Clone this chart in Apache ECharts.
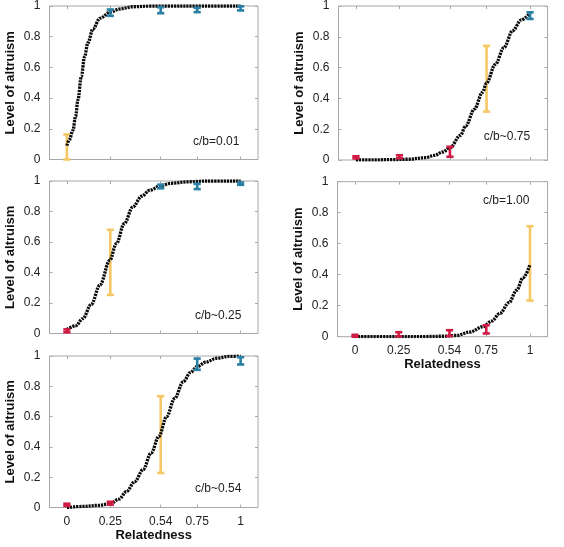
<!DOCTYPE html>
<html>
<head>
<meta charset="utf-8">
<script src="https://cdn.jsdelivr.net/npm/echarts@6/dist/echarts.min.js"></script>
<style>
html,body{margin:0;padding:0;background:#fff;}
#chart{width:564px;height:547px;}
</style>
</head>
<body>
<div id="chart"></div>
<script>
// ---- shared axis data ----
const xTicks = [0, 0.25, 0.54, 0.75, 1];
const xAxisTitle = 'Relatedness';
const yAxisTitle = 'Level of altruism';
const pointX = [0, 0.25, 0.54, 0.75, 1];

// ---- panel 1: c/b=0.01 ----
const p1Label = 'c/b=0.01';
const p1Low = [0.0, 0.936, 0.953, 0.960, 0.971];
const p1High = [0.163, 0.977, 0.992, 0.988, 0.998];
const p1Regime = ['M', 'C', 'C', 'C', 'C'];
const p1CurveX = [0, 0.015, 0.035, 0.05, 0.064, 0.083, 0.102, 0.121, 0.15, 0.19, 0.25, 0.3, 0.38, 0.48, 0.6, 0.75, 1];
const p1CurveY = [0.09, 0.13, 0.19, 0.28, 0.39, 0.54, 0.67, 0.76, 0.85, 0.92, 0.96, 0.98, 0.995, 1.0, 1.0, 1.0, 1.0];

// ---- panel 2: c/b~0.75 ----
const p2Label = 'c/b~0.75';
const p2Low = [0.010, 0.012, 0.021, 0.314, 0.916];
const p2High = [0.024, 0.031, 0.086, 0.741, 0.959];
const p2Regime = ['D', 'D', 'D', 'M', 'C'];
const p2CurveX = [0, 0.1, 0.2, 0.3, 0.4, 0.45, 0.5, 0.54, 0.6, 0.63, 0.68, 0.727, 0.75, 0.8, 0.85, 0.9, 0.95, 1];
const p2CurveY = [0.0, 0.001, 0.002, 0.005, 0.015, 0.03, 0.052, 0.08, 0.16, 0.22, 0.33, 0.44, 0.5, 0.62, 0.73, 0.84, 0.91, 0.955];

// ---- panel 3: c/b~0.25 ----
const p3Label = 'c/b~0.25';
const p3Low = [0.008, 0.253, 0.952, 0.947, 0.975];
const p3High = [0.027, 0.680, 0.976, 0.981, 0.990];
const p3Regime = ['D', 'M', 'C', 'C', 'C'];
const p3CurveX = [0, 0.05, 0.092, 0.14, 0.19, 0.247, 0.285, 0.33, 0.38, 0.43, 0.478, 0.54, 0.6, 0.7, 0.8, 1];
const p3CurveY = [0.026, 0.05, 0.098, 0.19, 0.317, 0.48, 0.59, 0.72, 0.83, 0.9, 0.94, 0.97, 0.985, 0.995, 1.0, 1.0];

// ---- panel 4: c/b=1.00 ----
const p4Label = 'c/b=1.00';
const p4Low = [0.0, 0.002, 0.004, 0.021, 0.233];
const p4High = [0.012, 0.029, 0.042, 0.074, 0.713];
const p4Regime = ['D', 'D', 'D', 'D', 'M'];
const p4CurveX = [0, 0.2, 0.4, 0.5, 0.58, 0.656, 0.732, 0.78, 0.828, 0.88, 0.924, 0.96, 1];
const p4CurveY = [0.0, 0.0, 0.001, 0.003, 0.008, 0.03, 0.065, 0.1, 0.15, 0.22, 0.3, 0.38, 0.465];

// ---- panel 5: c/b~0.54 ----
const p5Label = 'c/b~0.54';
const p5Low = [0.010, 0.019, 0.228, 0.909, 0.944];
const p5High = [0.025, 0.038, 0.735, 0.983, 0.992];
const p5Regime = ['D', 'D', 'M', 'C', 'C'];
const p5CurveX = [0, 0.092, 0.18, 0.247, 0.3, 0.343, 0.39, 0.439, 0.485, 0.53, 0.574, 0.62, 0.67, 0.71, 0.75, 0.8, 0.863, 0.93, 1];
const p5CurveY = [0.0, 0.007, 0.014, 0.024, 0.055, 0.105, 0.17, 0.25, 0.36, 0.47, 0.6, 0.72, 0.83, 0.89, 0.93, 0.96, 0.985, 0.997, 1.0];

// ---- styling / layout ----
const regimeColor = { D: '#cf1a43', M: '#f6c865', C: '#2a7fa5' };
const FONT = '"Liberation Sans", Arial, Helvetica, sans-serif';
const frameColor = '#a8a8a8';

const panels = [
  { label: p1Label, low: p1Low, high: p1High, regime: p1Regime, cx: p1CurveX, cy: p1CurveY,
    grid: { left: 49.5, top: 6, width: 208.5, height: 153.5 }, showX: false, note: [193, 141.7] },
  { label: p2Label, low: p2Low, high: p2High, regime: p2Regime, cx: p2CurveX, cy: p2CurveY,
    grid: { left: 338.5, top: 6, width: 209, height: 154 }, showX: false, note: [483.7, 136.7] },
  { label: p3Label, low: p3Low, high: p3High, regime: p3Regime, cx: p3CurveX, cy: p3CurveY,
    grid: { left: 49.5, top: 181, width: 208.5, height: 152.5 }, showX: false, note: [195, 315.7] },
  { label: p4Label, low: p4Low, high: p4High, regime: p4Regime, cx: p4CurveX, cy: p4CurveY,
    grid: { left: 337.5, top: 181.7, width: 210, height: 155 }, showX: true, note: [483, 200.7] },
  { label: p5Label, low: p5Low, high: p5High, regime: p5Regime, cx: p5CurveX, cy: p5CurveY,
    grid: { left: 49.5, top: 356, width: 208.5, height: 151.5 }, showX: true, note: [195, 488.3] }
];

const grids = [], xAxes = [], yAxes = [], series = [], graphics = [];

function errorBarRender(params, api) {
  const x = api.value(0), lo = api.value(1), hi = api.value(2);
  const color = api.visual('color');
  const pLo = api.coord([x, lo]);
  const pHi = api.coord([x, hi]);
  const hw = 3.6;
  const st = { stroke: color, lineWidth: 2.6 };
  return {
    type: 'group',
    children: [
      { type: 'line', shape: { x1: pLo[0], y1: pLo[1], x2: pHi[0], y2: pHi[1] }, style: st },
      { type: 'line', shape: { x1: pLo[0] - hw, y1: pLo[1], x2: pLo[0] + hw, y2: pLo[1] }, style: st },
      { type: 'line', shape: { x1: pHi[0] - hw, y1: pHi[1], x2: pHi[0] + hw, y2: pHi[1] }, style: st }
    ]
  };
}

panels.forEach((p, i) => {
  grids.push(Object.assign({ show: true, borderColor: frameColor, borderWidth: 1, backgroundColor: '#fff' }, p.grid));
  const xi = xAxes.length;
  const tickCommon = { show: true, inside: true, length: 3, customValues: xTicks, lineStyle: { color: frameColor, width: 1 } };
  const noLine = { show: false, onZero: false };
  xAxes.push({
    type: 'value', gridIndex: i, min: -0.1, max: 1.1, position: 'bottom',
    axisLine: noLine, splitLine: { show: false },
    axisTick: tickCommon,
    axisLabel: { show: p.showX, customValues: xTicks, margin: 8, color: '#222', fontFamily: FONT, fontSize: 12,
      formatter: v => String(v) },
    name: p.showX ? xAxisTitle : '', nameLocation: 'middle', nameGap: 21,
    nameTextStyle: { fontFamily: FONT, fontSize: 13, fontWeight: 'bold', color: '#111' }
  });
  xAxes.push({
    type: 'value', gridIndex: i, min: -0.1, max: 1.1, position: 'top',
    axisLine: noLine, splitLine: { show: false },
    axisTick: tickCommon, axisLabel: { show: false }
  });
  const yi = yAxes.length;
  const yTick = { show: true, inside: true, length: 3, lineStyle: { color: frameColor, width: 1 } };
  yAxes.push({
    type: 'value', gridIndex: i, min: 0, max: 1, interval: 0.2, position: 'left',
    axisLine: noLine, splitLine: { show: false },
    axisTick: yTick,
    axisLabel: { margin: 9, color: '#222', fontFamily: FONT, fontSize: 12 },
    name: yAxisTitle, nameLocation: 'middle', nameGap: 33,
    nameTextStyle: { fontFamily: FONT, fontSize: 13, fontWeight: 'bold', color: '#111' }
  });
  yAxes.push({
    type: 'value', gridIndex: i, min: 0, max: 1, interval: 0.2, position: 'right',
    axisLine: noLine, splitLine: { show: false },
    axisTick: yTick, axisLabel: { show: false }
  });

  const mixed = [], pure = [];
  pointX.forEach((x, k) => {
    const item = { value: [x, p.low[k], p.high[k]], itemStyle: { color: regimeColor[p.regime[k]] } };
    (p.regime[k] === 'M' ? mixed : pure).push(item);
  });
  series.push({
    type: 'custom', xAxisIndex: xi, yAxisIndex: yi, renderItem: errorBarRender,
    data: mixed, clip: false, z: 2, silent: true
  });
  series.push({
    type: 'line', xAxisIndex: xi, yAxisIndex: yi, smooth: 0.35, smoothMonotone: 'x',
    showSymbol: false, symbol: 'none', silent: true, z: 3,
    lineStyle: { color: '#0a0a0a', width: 3.3, type: [2.2, 0.9] },
    data: p.cx.map((x, k) => [x, p.cy[k]])
  });
  series.push({
    type: 'custom', xAxisIndex: xi, yAxisIndex: yi, renderItem: errorBarRender,
    data: pure, clip: false, z: 4, silent: true
  });
  graphics.push({
    type: 'text', x: p.note[0], y: p.note[1], z: 10,
    style: { text: p.label, font: '12px ' + FONT, fill: '#222', verticalAlign: 'middle', align: 'left' }
  });
});

const chart = echarts.init(document.getElementById('chart'), null, { renderer: 'canvas' });
chart.setOption({
  animation: false,
  backgroundColor: '#fff',
  grid: grids,
  xAxis: xAxes,
  yAxis: yAxes,
  series: series,
  graphic: graphics
});
</script>
</body>
</html>
